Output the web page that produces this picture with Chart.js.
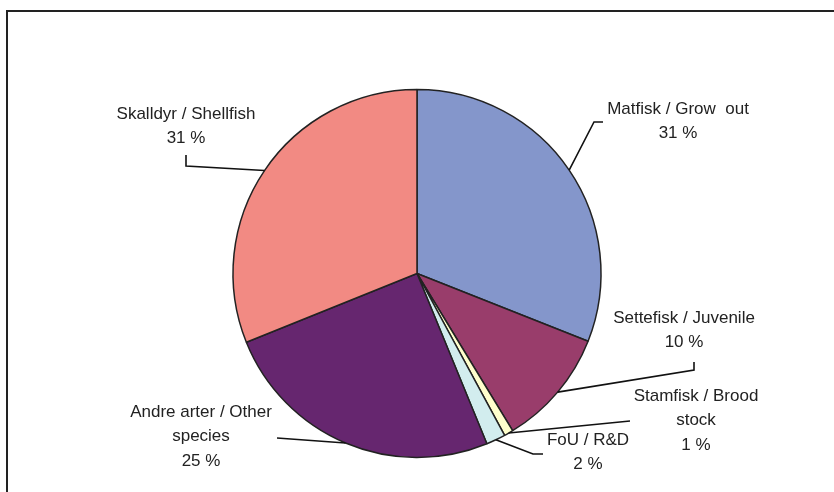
<!DOCTYPE html>
<html lang="en">
<head>
    <meta charset="UTF-8">
    <title>Pie chart</title>
    <script src="https://cdn.jsdelivr.net/npm/chart.js"></script>
    <style>
        html, body { margin: 0; padding: 0; background: #fff; }
        .chart-container { position: relative; width: 834px; height: 492px; }
    </style>
</head>
<body>
    <div class="chart-container">
        <canvas id="pieChart"></canvas>
    </div>
    <script>
        // Data
        const categories = ['Matfisk / Grow  out', 'Settefisk / Juvenile', 'Stamfisk / Brood stock', 'FoU / R&D', 'Andre arter / Other species', 'Skalldyr / Shellfish'];
        const shares = [31.0, 10.3, 0.8, 1.7, 25.1, 31.1];
        const colors = ['#8496CB', '#993D6B', '#FFFFCC', '#D2EDEE', '#66266F', '#F28A83'];

        // Label text lines (percent line added from the data)
        const labelLines = [
            ['Matfisk / Grow  out'],
            ['Settefisk / Juvenile'],
            ['Stamfisk / Brood', 'stock'],
            ['FoU / R&D'],
            ['Andre arter / Other', 'species'],
            ['Skalldyr / Shellfish']
        ];

        // Where each label sits and how its leader line bends
        const labelLayout = [
            { x: 678, y: 109, leader: [[594, 122], [603, 122]] },
            { x: 684, y: 318, leader: [[694, 370], [694, 362]] },
            { x: 696, y: 396, leader: [[630, 421]] },
            { x: 588, y: 440, leader: [[533, 454], [543, 454]] },
            { x: 201, y: 412, leader: [[277, 438]] },
            { x: 186, y: 114, leader: [[186, 166], [186, 155]] }
        ];

        const labelPlugin = {
            id: 'pieLabels',
            beforeDraw(chart) {
                const ctx = chart.ctx;
                ctx.save();
                ctx.strokeStyle = '#222';
                ctx.lineWidth = 2;
                ctx.strokeRect(7, 11, 900, 600);
                ctx.restore();
            },
            afterDraw(chart) {
                const ctx = chart.ctx;
                const arcs = chart.getDatasetMeta(0).data;
                ctx.save();
                ctx.font = '17px "Liberation Sans", Arial, sans-serif';
                ctx.fillStyle = '#222';
                ctx.textAlign = 'center';
                ctx.textBaseline = 'middle';
                arcs.forEach((arc, i) => {
                    const p = arc.getProps(['x', 'y', 'startAngle', 'endAngle', 'outerRadius'], true);
                    const mid = (p.startAngle + p.endAngle) / 2;
                    const ax = p.x + p.outerRadius * Math.cos(mid);
                    const ay = p.y + p.outerRadius * Math.sin(mid);
                    const lay = labelLayout[i];

                    ctx.beginPath();
                    ctx.strokeStyle = '#111';
                    ctx.lineWidth = 1.6;
                    ctx.moveTo(ax, ay);
                    lay.leader.forEach(pt => ctx.lineTo(pt[0], pt[1]));
                    ctx.stroke();

                    const lines = labelLines[i].concat([Math.round(shares[i]) + ' %']);
                    lines.forEach((t, k) => ctx.fillText(t, lay.x, lay.y + k * 24.5));
                });
                ctx.restore();
            }
        };

        new Chart(document.getElementById('pieChart'), {
            type: 'pie',
            data: {
                labels: categories,
                datasets: [{
                    data: shares,
                    backgroundColor: colors,
                    borderColor: '#222',
                    borderWidth: 1.5
                }]
            },
            options: {
                responsive: true,
                maintainAspectRatio: false,
                animation: false,
                radius: 184,
                layout: { padding: { left: 0, right: 0, top: 81, bottom: 26 } },
                plugins: {
                    legend: { display: false },
                    tooltip: { enabled: false }
                }
            },
            plugins: [labelPlugin]
        });
    </script>
</body>
</html>
